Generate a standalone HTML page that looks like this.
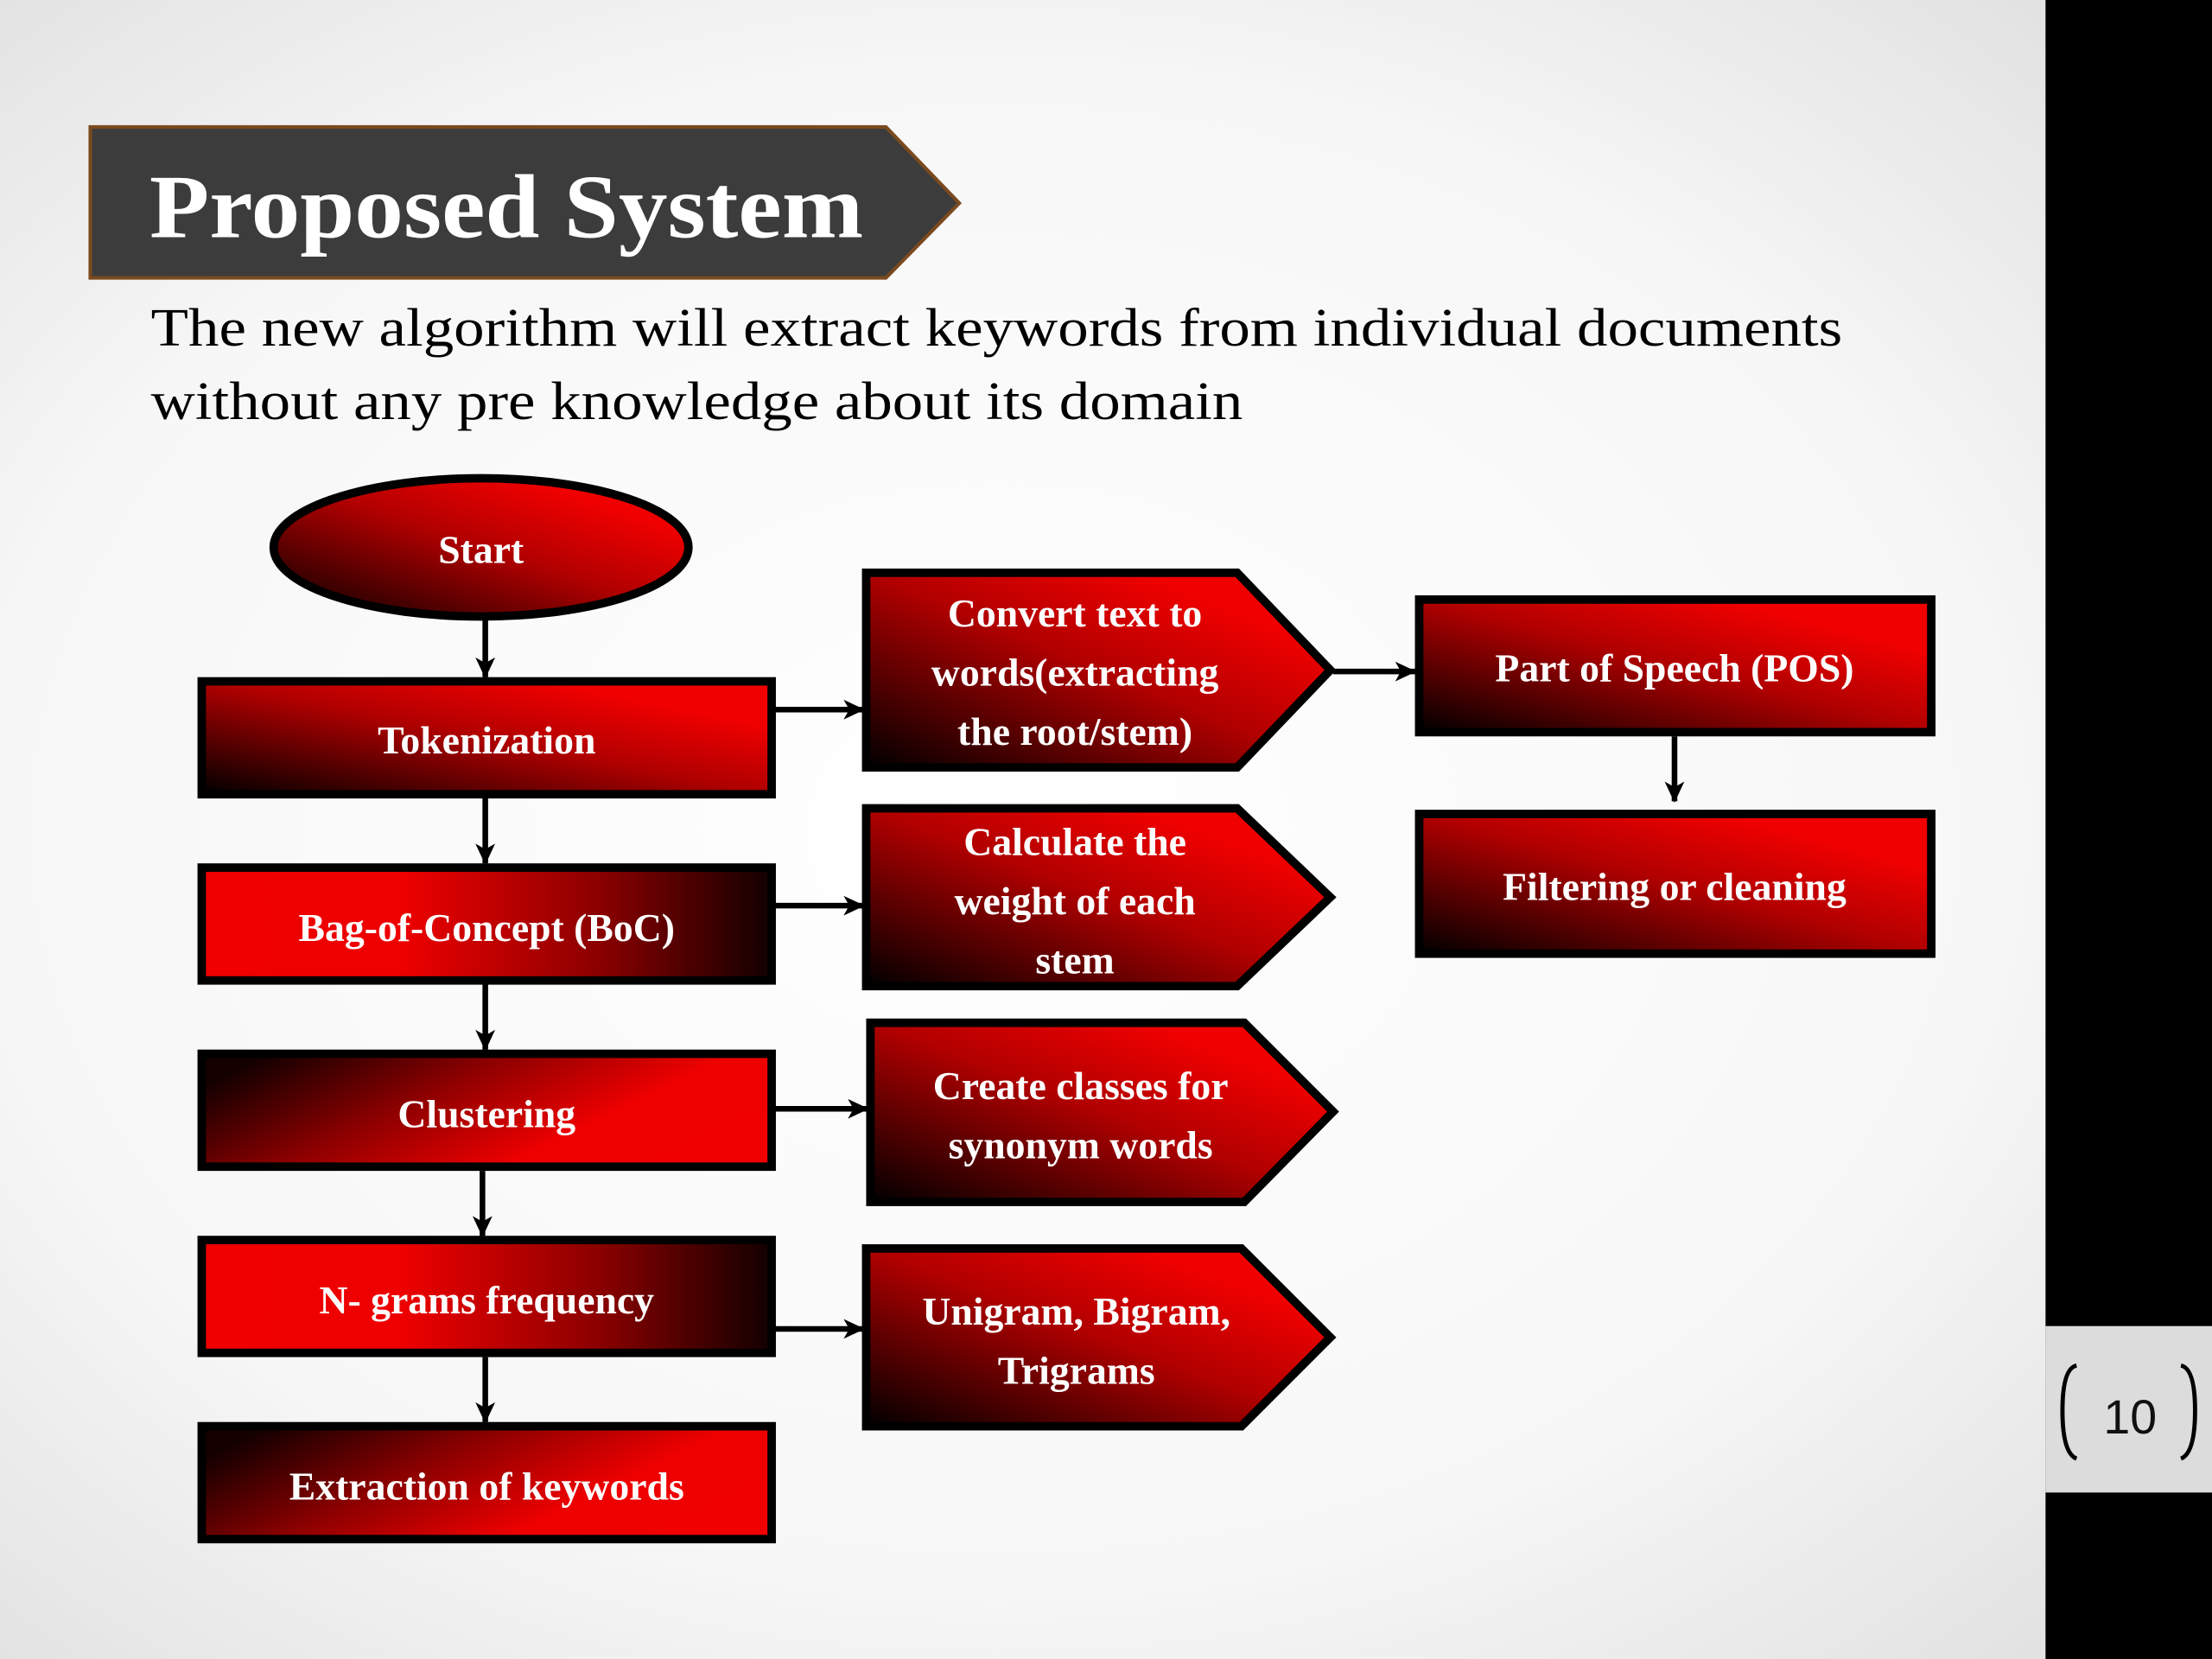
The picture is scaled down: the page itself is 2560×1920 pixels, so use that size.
<!DOCTYPE html>
<html><head><meta charset="utf-8"><style>
html,body{margin:0;padding:0;width:2560px;height:1920px;overflow:hidden;}
svg{display:block}
.t{font-family:"Liberation Serif",serif;font-weight:bold;fill:#fff;font-size:28px;text-anchor:middle}
</style></head><body>
<svg width="2560" height="1920" viewBox="0 0 1568 1176" xmlns="http://www.w3.org/2000/svg">
<defs>
<radialGradient id="bg" cx="0.45" cy="0.5" r="0.75">
<stop offset="0" stop-color="#ffffff"/><stop offset="0.6" stop-color="#f7f7f7"/><stop offset="1" stop-color="#dcdcdc"/>
</radialGradient>
<linearGradient id="d" x1="0" y1="1" x2="1" y2="0">
<stop offset="0" stop-color="#000"/><stop offset="0.5" stop-color="#b00000"/><stop offset="0.8" stop-color="#f00000"/><stop offset="1" stop-color="#f00000"/>
</linearGradient>
<linearGradient id="h" x1="0" y1="0" x2="1" y2="0">
<stop offset="0" stop-color="#f00000"/><stop offset="0.35" stop-color="#ee0000"/><stop offset="0.7" stop-color="#8a0000"/><stop offset="1" stop-color="#120000"/>
</linearGradient>
<linearGradient id="hr" x1="0" y1="0.3" x2="1" y2="0.7">
<stop offset="0" stop-color="#150000"/><stop offset="0.35" stop-color="#8a0000"/><stop offset="0.7" stop-color="#ee0000"/><stop offset="1" stop-color="#f00000"/>
</linearGradient>
<marker id="a" markerWidth="16" markerHeight="16" refX="14" refY="8" orient="auto" markerUnits="userSpaceOnUse">
<path d="M0,1 L15,8 L0,15 L4,8 Z" fill="#000"/>
</marker>
</defs>
<rect width="1568" height="1176" fill="url(#bg)"/>
<rect x="1450" y="0" width="118" height="1176" fill="#000"/>
<rect x="1450" y="940" width="118" height="118" fill="#dcdcdc"/>
<text x="1510" y="1016" font-family="Liberation Sans,sans-serif" font-size="34" text-anchor="middle" fill="#111">10</text>
<path d="M1472,968 Q1462,970 1462,1000 Q1462,1030 1472,1034" fill="none" stroke="#000" stroke-width="3"/>
<path d="M1546,968 Q1556,970 1556,1000 Q1556,1030 1546,1034" fill="none" stroke="#000" stroke-width="3"/>

<path d="M64,90 L628,90 L680,144 L628,197 L64,197 Z" fill="#3c3c3c" stroke="#7a4a1e" stroke-width="2.5"/>
<text x="106" y="168" font-family="Liberation Serif,serif" font-weight="bold" font-size="64" fill="#fff" textLength="506" lengthAdjust="spacingAndGlyphs">Proposed System</text>
<text x="107" y="245" font-family="Liberation Serif,serif" font-size="38" fill="#000" textLength="1199" lengthAdjust="spacingAndGlyphs">The new algorithm will extract keywords from individual documents</text>
<text x="107" y="297" font-family="Liberation Serif,serif" font-size="38" fill="#000" textLength="774" lengthAdjust="spacingAndGlyphs">without any pre knowledge about its domain</text>

<g stroke="#000" stroke-width="4" fill="none">
<line x1="344" y1="437" x2="344" y2="480" marker-end="url(#a)"/>
<line x1="344" y1="565" x2="344" y2="612" marker-end="url(#a)"/>
<line x1="344" y1="697" x2="344" y2="744" marker-end="url(#a)"/>
<line x1="342" y1="830" x2="342" y2="876" marker-end="url(#a)"/>
<line x1="344" y1="962" x2="344" y2="1008" marker-end="url(#a)"/>
<line x1="549" y1="503" x2="612" y2="503" marker-end="url(#a)"/>
<line x1="549" y1="642" x2="612" y2="642" marker-end="url(#a)"/>
<line x1="549" y1="786" x2="615" y2="786" marker-end="url(#a)"/>
<line x1="549" y1="942" x2="612" y2="942" marker-end="url(#a)"/>
<line x1="945" y1="476" x2="1003" y2="476" marker-end="url(#a)"/>
<line x1="1187" y1="522" x2="1187" y2="568" marker-end="url(#a)"/>
</g>

<g stroke="#000" stroke-width="6">
<ellipse cx="341" cy="388" rx="147" ry="49" fill="url(#d)"/>
<rect x="143" y="483" width="404" height="80" fill="url(#d)"/>
<rect x="143" y="615" width="404" height="80" fill="url(#h)"/>
<rect x="143" y="747" width="404" height="80" fill="url(#hr)"/>
<rect x="143" y="879" width="404" height="80" fill="url(#h)"/>
<rect x="143" y="1011" width="404" height="80" fill="url(#hr)"/>
<path d="M614,406 L877,406 L943,475 L877,544 L614,544 Z" fill="url(#d)"/>
<path d="M614,573 L877,573 L943,636 L877,699 L614,699 Z" fill="url(#d)"/>
<path d="M617,725 L882,725 L945,788 L882,852 L617,852 Z" fill="url(#d)"/>
<path d="M614,885 L880,885 L943,948 L880,1011 L614,1011 Z" fill="url(#d)"/>
<rect x="1006" y="425" width="363" height="94" fill="url(#d)"/>
<rect x="1006" y="577" width="363" height="99" fill="url(#d)"/>
</g>

<text class="t" x="341" y="399">Start</text>
<text class="t" x="345" y="534">Tokenization</text>
<text class="t" x="345" y="667">Bag-of-Concept (BoC)</text>
<text class="t" x="345" y="799">Clustering</text>
<text class="t" x="345" y="931">N- grams frequency</text>
<text class="t" x="345" y="1063">Extraction of keywords</text>
<text class="t" x="762" y="444">Convert text to</text>
<text class="t" x="762" y="486">words(extracting</text>
<text class="t" x="762" y="528">the root/stem)</text>
<text class="t" x="762" y="606">Calculate the</text>
<text class="t" x="762" y="648">weight of each</text>
<text class="t" x="762" y="690">stem</text>
<text class="t" x="766" y="779">Create classes for</text>
<text class="t" x="766" y="821">synonym words</text>
<text class="t" x="763" y="939">Unigram, Bigram,</text>
<text class="t" x="763" y="981">Trigrams</text>
<text class="t" x="1187" y="483">Part of Speech (POS)</text>
<text class="t" x="1187" y="638">Filtering or cleaning</text>
</svg>
</body></html>
